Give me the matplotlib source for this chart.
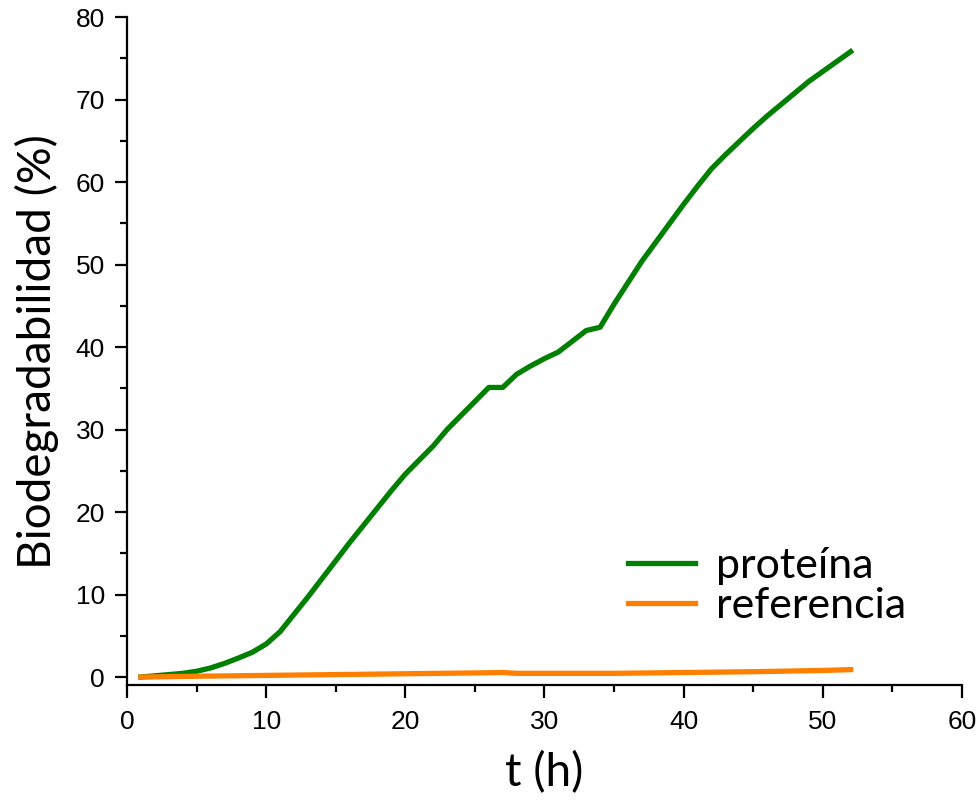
import matplotlib
matplotlib.use('Agg')
import matplotlib.pyplot as plt
from matplotlib.ticker import MultipleLocator

# Dados (tempo em horas, biodegradabilidade em %)
tempo_proteina = [1, 2, 3, 4, 5, 6, 7, 8, 9, 10, 11, 12, 13, 14, 15, 16, 17, 18, 19, 20,
                  21, 22, 23, 24, 25, 26, 27, 28, 29, 30, 31, 32, 33, 34, 35, 36, 37, 38,
                  39, 40, 41, 42, 43, 44, 45, 46, 47, 48, 49, 50, 51, 52]
bio_proteina = [0.0, 0.15, 0.3, 0.45, 0.7, 1.1, 1.65, 2.3, 3.0, 4.0, 5.5, 7.6, 9.7, 11.9,
                14.1, 16.3, 18.4, 20.5, 22.6, 24.6, 26.3, 28.0, 30.0, 31.7, 33.4, 35.1,
                35.1, 36.7, 37.7, 38.6, 39.4, 40.7, 42.0, 42.4, 45.2, 47.8, 50.4, 52.7,
                55.0, 57.3, 59.5, 61.6, 63.3, 64.9, 66.5, 68.0, 69.4, 70.8, 72.2, 73.4,
                74.6, 75.8]

tempo_referencia = [1, 5, 10, 15, 20, 25, 27, 28, 30, 35, 40, 45, 50, 52]
bio_referencia = [0.0, 0.1, 0.2, 0.3, 0.4, 0.5, 0.55, 0.45, 0.45, 0.45, 0.55, 0.65, 0.8, 0.9]

fonte_rotulos = 'Lato'
fonte_ticks = 'Liberation Sans'

fig = plt.figure(figsize=(9.77, 8.02), dpi=100)
ax = fig.add_axes([0.130, 0.1455, 0.8546, 0.8333])

ax.plot(tempo_proteina, bio_proteina, color='#008000', linewidth=3.8, label='proteína')
ax.plot(tempo_referencia, bio_referencia, color='#ff8000', linewidth=3.8, label='referencia')

ax.set_xlim(0, 60)
ax.set_ylim(-1, 80)
ax.xaxis.set_major_locator(MultipleLocator(10))
ax.xaxis.set_minor_locator(MultipleLocator(5))
ax.yaxis.set_major_locator(MultipleLocator(10))
ax.yaxis.set_minor_locator(MultipleLocator(5))

for lado in ['top', 'right']:
    ax.spines[lado].set_visible(False)
for lado in ['left', 'bottom']:
    ax.spines[lado].set_linewidth(1.6)

ax.tick_params(which='major', direction='out', length=9, width=1.6, labelsize=19)
ax.tick_params(axis='y', which='major', pad=7)
ax.tick_params(axis='x', which='major', pad=9)
ax.tick_params(which='minor', direction='out', length=5, width=1.6)
for lbl in ax.get_xticklabels() + ax.get_yticklabels():
    lbl.set_fontfamily(fonte_ticks)

ax.set_xlabel('t (h)', fontsize=33, fontfamily=fonte_rotulos, labelpad=12)
ax.set_ylabel('Biodegradabilidad (%)', fontsize=33, fontfamily=fonte_rotulos, labelpad=12)

ax.legend(loc='center left', bbox_to_anchor=(0.574, 0.149), frameon=False, borderpad=0,
          prop={'family': fonte_rotulos, 'size': 31}, handlelength=1.55,
          handletextpad=0.5, labelspacing=0.04)

fig.savefig('out.png', dpi=100)
